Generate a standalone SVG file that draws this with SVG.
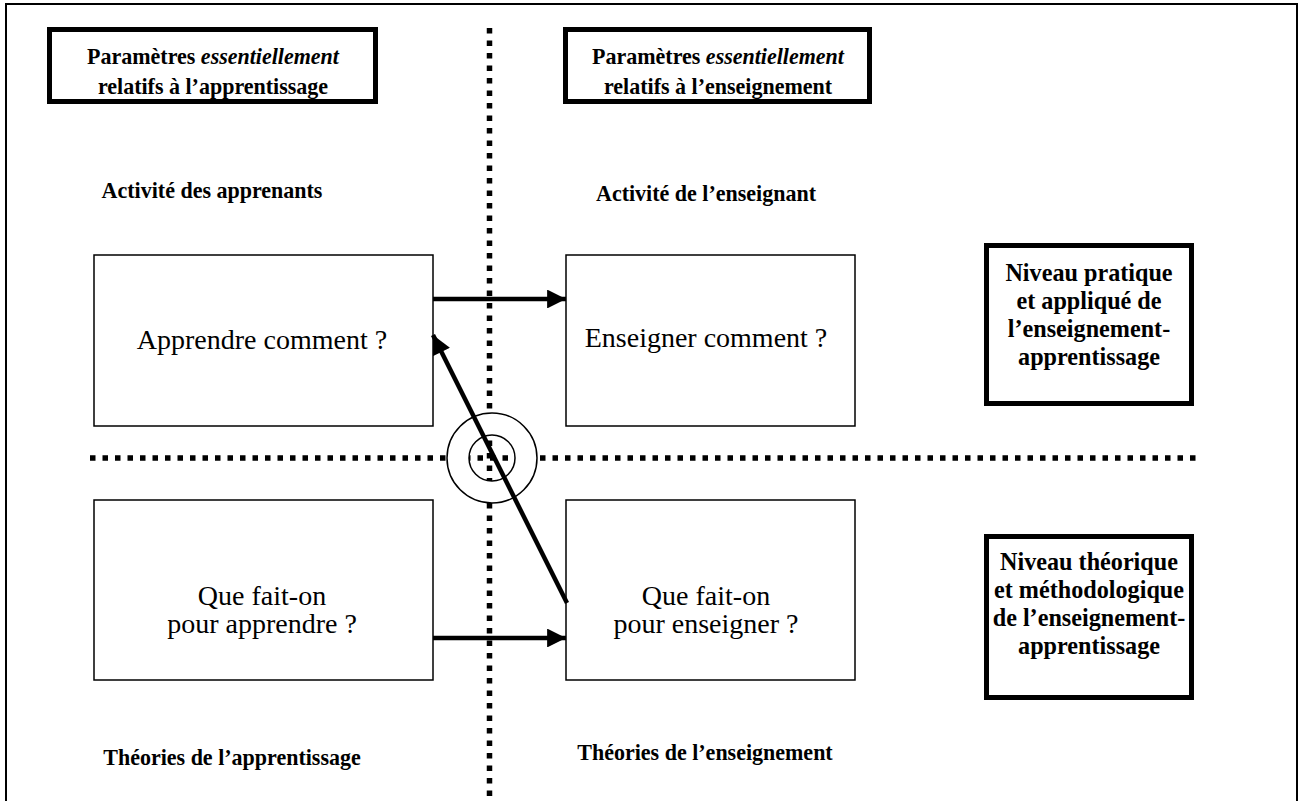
<svg xmlns="http://www.w3.org/2000/svg" width="1299" height="801" viewBox="0 0 1299 801">
<style>
.b{font-family:"Liberation Serif","Times New Roman",serif;font-weight:bold;font-size:24px;fill:#000;text-anchor:middle}
.bl{font-family:"Liberation Serif","Times New Roman",serif;font-weight:bold;font-size:26px;fill:#000;text-anchor:middle}
.r{font-family:"Liberation Serif","Times New Roman",serif;font-size:28px;fill:#000;text-anchor:middle}
.thick{fill:#fff;stroke:#000;stroke-width:5}
.thin{fill:#fff;stroke:#000;stroke-width:1.5}
.dot{stroke:#000;stroke-width:5.5;stroke-dasharray:5.5 7;fill:none}
.arr{stroke:#000;stroke-width:4.5;fill:none}
</style>
<defs>
<marker id="ah" viewBox="0 0 10 10" refX="10" refY="5" markerWidth="4.4" markerHeight="4.2" markerUnits="strokeWidth" orient="auto">
<path d="M0,0 L10,5 L0,10 z" fill="#000"/>
</marker>
</defs>
<rect width="1299" height="801" fill="#fff"/>
<path d="M6,801 V4 H1297 V801" fill="none" stroke="#000" stroke-width="2"/>
<g id="grid">
<line class="dot" x1="489.5" y1="28" x2="489.5" y2="801"/>
<line class="dot" x1="90" y1="458" x2="1200" y2="458"/>
<path d="M537,458 a45,45 0 1,0 -90,0 a45,45 0 1,0 90,0 z M515,458 a23,23 0 1,0 -46,0 a23,23 0 1,0 46,0 z" fill="#fff" fill-rule="evenodd" stroke="#000" stroke-width="1.5"/>
</g>
<g id="hdr-learn">
<rect class="thick" x="49.5" y="29.5" width="326" height="72"/>
<text class="b" transform="translate(213,64) scale(0.917,1)">Paramètres <tspan font-style="italic">essentiellement</tspan></text>
<text class="b" transform="translate(213,94) scale(0.917,1)">relatifs à l’apprentissage</text>
</g>
<g id="hdr-teach">
<rect class="thick" x="565.5" y="29.5" width="304" height="72"/>
<text class="b" transform="translate(718,64) scale(0.917,1)">Paramètres <tspan font-style="italic">essentiellement</tspan></text>
<text class="b" transform="translate(718,94) scale(0.917,1)">relatifs à l’enseignement</text>
</g>
<g id="lbl-act-learn"><text class="b" transform="translate(212,198) scale(0.917,1)">Activité des apprenants</text></g>
<g id="lbl-act-teach"><text class="b" transform="translate(706,201) scale(0.917,1)">Activité de l’enseignant</text></g>
<g id="box-learn-how">
<rect class="thin" x="94" y="255" width="339" height="171"/>
<text class="r" x="262" y="349">Apprendre comment ?</text>
</g>
<g id="box-teach-how">
<rect class="thin" x="566" y="255" width="289" height="171"/>
<text class="r" x="706" y="347">Enseigner comment ?</text>
</g>
<g id="lvl-practice">
<rect class="thick" x="986.5" y="245.5" width="205" height="158" stroke-width="6.5"/>
<text class="bl" transform="translate(1089,281) scale(0.93,1)">Niveau pratique</text>
<text class="bl" transform="translate(1089,309) scale(0.93,1)">et appliqué de</text>
<text class="bl" transform="translate(1089,337) scale(0.93,1)">l’enseignement-</text>
<text class="bl" transform="translate(1089,365) scale(0.93,1)">apprentissage</text>
</g>
<g id="box-learn-do">
<rect class="thin" x="94" y="500" width="339" height="180"/>
<text class="r" x="262" y="605">Que fait-on</text>
<text class="r" x="262" y="633">pour apprendre ?</text>
</g>
<g id="box-teach-do">
<rect class="thin" x="566" y="500" width="289" height="180"/>
<text class="r" x="706" y="605">Que fait-on</text>
<text class="r" x="706" y="633">pour enseigner ?</text>
</g>
<g id="lvl-theory">
<rect class="thick" x="986.5" y="536.5" width="205" height="161" stroke-width="6.5"/>
<text class="bl" transform="translate(1089,570) scale(0.93,1)">Niveau théorique</text>
<text class="bl" transform="translate(1089,598) scale(0.93,1)">et méthodologique</text>
<text class="bl" transform="translate(1089,626) scale(0.93,1)">de l’enseignement-</text>
<text class="bl" transform="translate(1089,654) scale(0.93,1)">apprentissage</text>
</g>
<g id="lbl-th-learn"><text class="b" transform="translate(232,765) scale(0.917,1)">Théories de l’apprentissage</text></g>
<g id="lbl-th-teach"><text class="b" transform="translate(705,760) scale(0.917,1)">Théories de l’enseignement</text></g>
<g id="connectors">
<line class="arr" x1="433" y1="299" x2="566" y2="299" marker-end="url(#ah)"/>
<line class="arr" x1="567" y1="603" x2="433" y2="335" marker-end="url(#ah)"/>
<line class="arr" x1="433" y1="638" x2="566" y2="638" marker-end="url(#ah)"/>
</g>
</svg>
